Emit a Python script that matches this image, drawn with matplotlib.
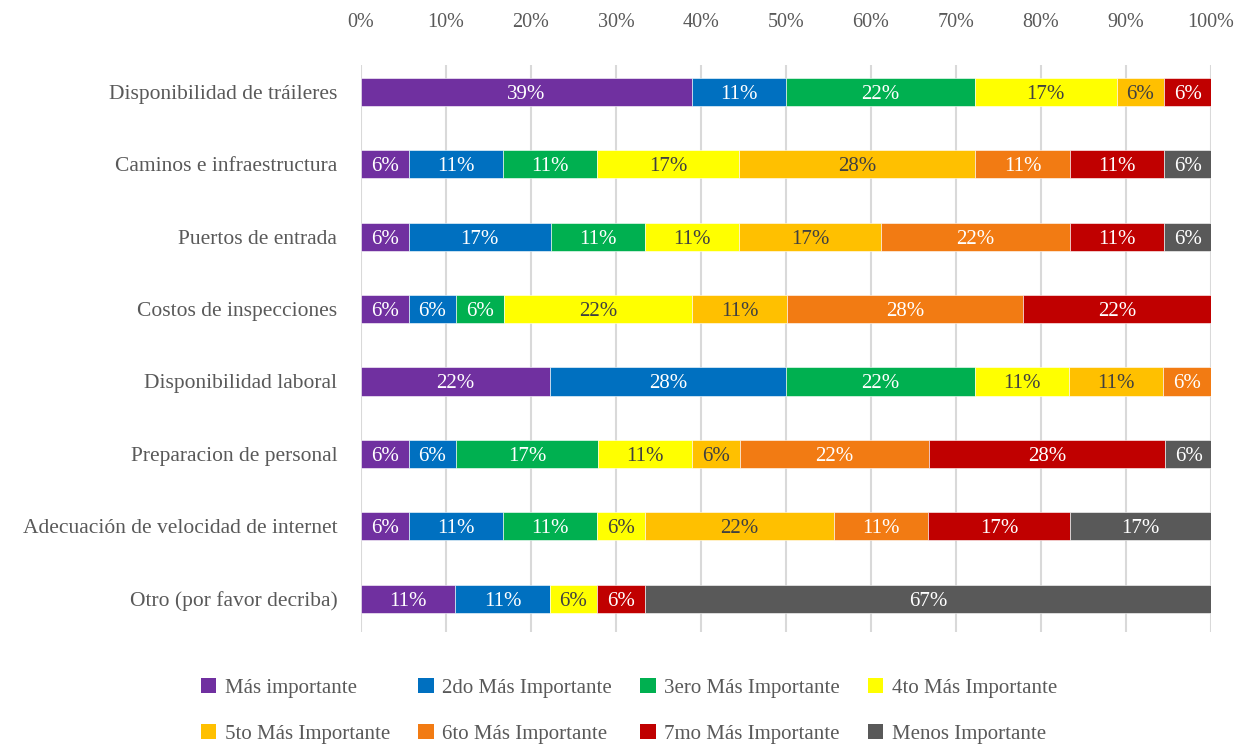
import numpy as np
import matplotlib
matplotlib.use("Agg")
import matplotlib.pyplot as plt
from matplotlib.patches import Patch

plt.rcParams['font.family'] = ['Liberation Serif', 'DejaVu Serif']

# Categories (top to bottom)
categories = [
    "Disponibilidad de tráileres",
    "Caminos e infraestructura",
    "Puertos de entrada",
    "Costos de inspecciones",
    "Disponibilidad laboral",
    "Preparacion de personal",
    "Adecuación de velocidad de internet",
    "Otro (por favor decriba)",
]

series_names = [
    "Más importante",
    "2do Más Importante",
    "3ero Más Importante",
    "4to Más Importante",
    "5to Más Importante",
    "6to Más Importante",
    "7mo Más Importante",
    "Menos Importante",
]

# percent values per rank, one list per series (in category order)
mas_importante = [38.9, 5.6, 5.6, 5.6, 22.2, 5.6, 5.6, 11.1]
segundo = [11.1, 11.1, 16.7, 5.6, 27.8, 5.6, 11.1, 11.1]
tercero = [22.2, 11.1, 11.1, 5.6, 22.2, 16.7, 11.1, 0.0]
cuarto = [16.7, 16.7, 11.1, 22.2, 11.1, 11.1, 5.6, 5.6]
quinto = [5.6, 27.8, 16.7, 11.1, 11.1, 5.6, 22.2, 0.0]
sexto = [0.0, 11.1, 22.2, 27.8, 5.6, 22.2, 11.1, 0.0]
septimo = [5.6, 11.1, 11.1, 22.2, 0.0, 27.8, 16.7, 5.6]
menos = [0.0, 5.6, 5.6, 0.0, 0.0, 5.6, 16.7, 66.7]

series = [mas_importante, segundo, tercero, cuarto, quinto, sexto, septimo, menos]

colors = ["#7030A0", "#0070C0", "#00B050", "#FFFF00",
          "#FFC000", "#F27B13", "#C00000", "#595959"]
label_colors = ["white", "white", "white", "#404040",
                "#404040", "white", "white", "white"]

ticks = [0, 10, 20, 30, 40, 50, 60, 70, 80, 90, 100]
text_gray = "#595959"

fig = plt.figure(figsize=(12.43, 7.44), dpi=100)
ax = fig.add_axes([0.2904, 0.1505, 0.6838, 0.7621])

y = np.arange(len(categories))
left = np.zeros(len(categories))
for vals, col, lcol, name in zip(series, colors, label_colors, series_names):
    vals = np.array(vals)
    ax.barh(y, vals, left=left, height=0.39, color=col, edgecolor="white",
            linewidth=0.4, label=name, zorder=3)
    for yi, (l, v) in enumerate(zip(left, vals)):
        if v > 0:
            ax.text(l + v / 2, yi, f"{v:.0f}%", ha="center",
                    va="center_baseline", fontsize=15, color=lcol, zorder=4)
    left += vals

ax.set_xlim(0, 100)
ax.set_ylim(7.46, -0.37)
ax.set_xticks(ticks)
ax.set_xticklabels([f"{t}%" for t in ticks])
ax.xaxis.tick_top()
ax.tick_params(axis="x", length=0, pad=24, labelsize=14.5, labelcolor=text_gray)
ax.set_yticks(y)
ax.set_yticklabels(categories)
ax.tick_params(axis="y", length=0, pad=17, labelsize=15.5, labelcolor=text_gray)
ax.grid(axis="x", color="#D9D9D9", linewidth=1.5, zorder=0)
for s in ax.spines.values():
    s.set_visible(False)

# legend filled row by row
handles = [Patch(facecolor=c, label=n) for c, n in zip(colors, series_names)]
order = [0, 4, 1, 5, 2, 6, 3, 7]
fig.legend(handles=[handles[i] for i in order], loc="lower center",
           bbox_to_anchor=(0.506, -0.025),
           ncol=4, frameon=False, fontsize=15, labelcolor=text_gray,
           handlelength=0.75, handleheight=0.75, handletextpad=0.4,
           columnspacing=1.35, labelspacing=1.25)

fig.savefig("out.png", dpi=100)
